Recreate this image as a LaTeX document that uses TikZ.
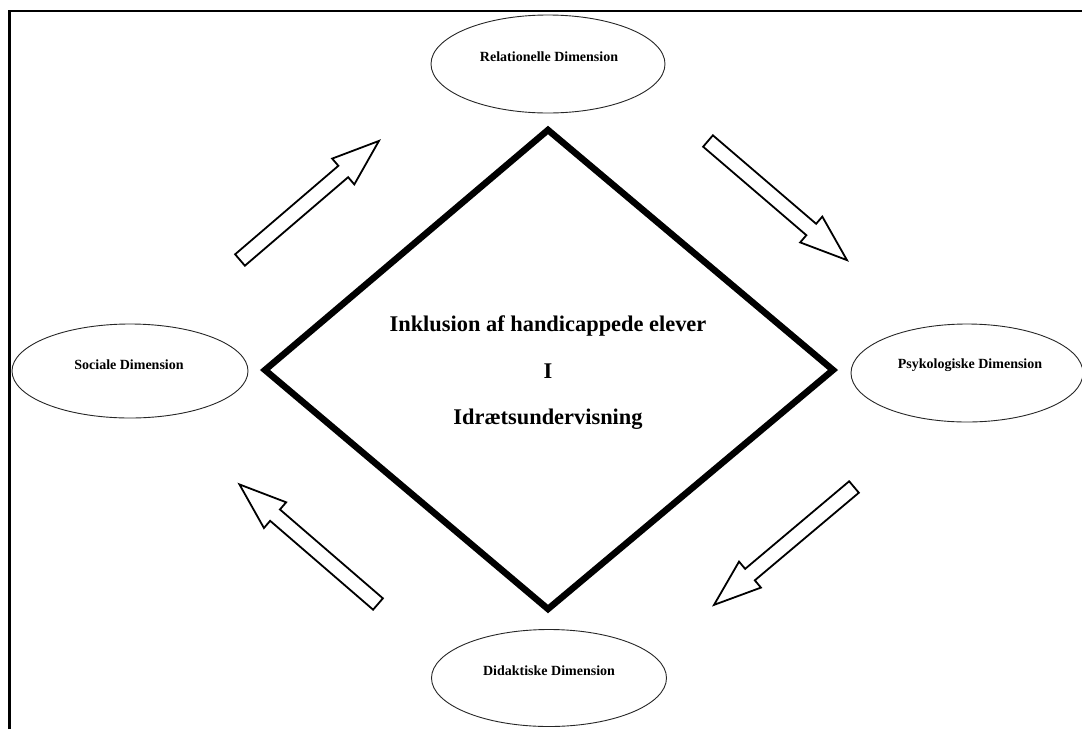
\documentclass[tikz,border=0pt]{standalone}
\usepackage{fontspec}
\setmainfont{Liberation Serif}
\usetikzlibrary{shapes.geometric}
\tikzset{
  frameline/.style={line width=2.5pt, line join=miter},
  dimell/.style={ellipse, draw=black!85, line width=0.9pt, fill=white, inner sep=0pt},
  dimtxt/.style={font=\bfseries\fontsize{14}{16}\selectfont, anchor=base, inner sep=0pt},
  centertxt/.style={font=\bfseries\fontsize{22.4}{26}\selectfont, anchor=base, inner sep=0pt},
  diamondline/.style={line width=6.5pt, line join=miter, miter limit=10},
  arrowline/.style={draw=black, fill=white, line width=1.8pt, line join=miter},
  blockarrow/.pic={\path[arrowline] (0,-7.5) -- (136,-7.5) -- (136,-17) -- (183,0) -- (136,17) -- (136,7.5) -- (0,7.5) -- cycle;}
}
\begin{document}
\begin{tikzpicture}[x=1pt, y=-1pt]
\useasboundingbox (0,0) rectangle (1082,729);
% frame
\coordinate (fBL) at (9.7,729);
\coordinate (fTL) at (9.7,11);
\coordinate (fTR) at (1082,11);
\draw[frameline] (fBL) -- (fTL) -- (fTR);
% diamond
\coordinate (dT) at (548,130);
\coordinate (dR) at (833,370);
\coordinate (dB) at (548,609);
\coordinate (dL) at (265,370);
\draw[diamondline] (dT) -- (dR) -- (dB) -- (dL) -- cycle;
\node[centertxt] (t1) at (548,331) {Inklusion af handicappede elever};
\node[centertxt] (t2) at (548,378) {I};
\node[centertxt] (t3) at (548,424) {Idrætsundervisning};
% ellipses
\node[dimell, minimum width=234pt, minimum height=98pt] (rel) at (548,64) {};
\node[dimtxt] (relt) at (549,61) {Relationelle Dimension};
\node[dimell, minimum width=236pt, minimum height=94pt] (soc) at (130,371) {};
\node[dimtxt] (soct) at (129,369) {Sociale Dimension};
\node[dimell, minimum width=232pt, minimum height=98pt] (psy) at (967,373) {};
\node[dimtxt] (psyt) at (970,368) {Psykologiske Dimension};
\node[dimell, minimum width=235pt, minimum height=97pt] (did) at (549,678) {};
\node[dimtxt] (didt) at (549,675) {Didaktiske Dimension};
% block arrows
\pic[rotate=40.6] at (240,260) {blockarrow};
\pic[rotate=-40.6] at (708,141) {blockarrow};
\pic[rotate=220.1] at (854,487) {blockarrow};
\pic[rotate=139.2] at (378,604) {blockarrow};
\end{tikzpicture}
\end{document}
